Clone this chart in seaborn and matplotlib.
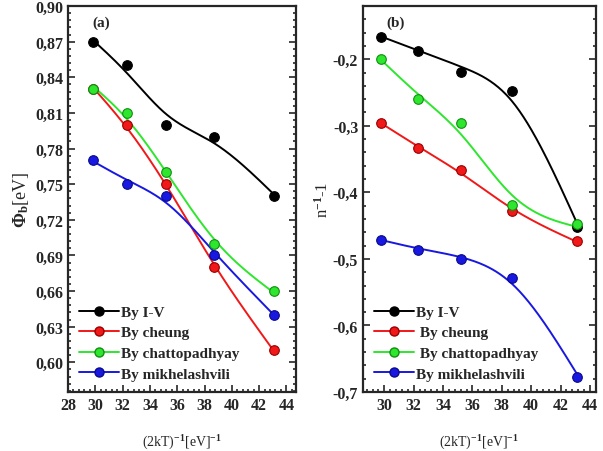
import matplotlib
matplotlib.use('Agg')
import numpy as np
import matplotlib.pyplot as plt
import seaborn as sns
from matplotlib.lines import Line2D
from matplotlib.ticker import MultipleLocator, AutoMinorLocator, FuncFormatter

# Data
x_vals = [29.8, 32.3, 35.2, 38.7, 43.1]
labels_a = ['By I-V', 'By cheung', 'By chattopadhyay', 'By mikhelashvili']
labels_b = ['By I-V', ' By cheung', ' By chattopadhyay', 'By mikhelashvili']
colors = ['black', '#f01818', '#2ee62e', '#1818e0']
edges = ['#000000', '#9a0000', '#0f8f0f', '#0a0a8a']

phi_iv = [0.87, 0.85, 0.80, 0.79, 0.74]
phi_cheung = [0.83, 0.80, 0.75, 0.68, 0.61]
phi_chatto = [0.83, 0.81, 0.76, 0.70, 0.66]
phi_mikhel = [0.77, 0.75, 0.74, 0.69, 0.64]

n_iv = [-0.166, -0.187, -0.219, -0.248, -0.452]
n_cheung = [-0.296, -0.333, -0.367, -0.428, -0.473]
n_chatto = [-0.200, -0.260, -0.296, -0.419, -0.447]
n_mikhel = [-0.471, -0.487, -0.500, -0.528, -0.677]

SMOOTH = 3.0

sns.set_style('ticks')
plt.rcParams['font.family'] = ['Liberation Serif', 'DejaVu Serif']
plt.rcParams['font.weight'] = 'bold'
plt.rcParams['mathtext.fontset'] = 'custom'
plt.rcParams['mathtext.rm'] = 'Liberation Serif:bold'
plt.rcParams['mathtext.it'] = 'Liberation Serif:bold'
plt.rcParams['mathtext.bf'] = 'Liberation Serif:bold'


def smooth_spline(xs, ys, lam, n=200):
    # cubic smoothing spline (Reinsch) drawn through the data
    x = np.asarray(xs, float)
    y = np.asarray(ys, float)
    h = np.diff(x)
    m = len(x)
    Q = np.zeros((m, m - 2))
    R = np.zeros((m - 2, m - 2))
    for j in range(1, m - 1):
        Q[j - 1, j - 1] = 1 / h[j - 1]
        Q[j, j - 1] = -1 / h[j - 1] - 1 / h[j]
        Q[j + 1, j - 1] = 1 / h[j]
        R[j - 1, j - 1] = (h[j - 1] + h[j]) / 3
        if j < m - 2:
            R[j - 1, j] = R[j, j - 1] = h[j] / 6
    g = np.linalg.solve(np.eye(m) + lam * Q @ np.linalg.solve(R, Q.T), y)
    M = np.concatenate([[0], np.linalg.solve(R, Q.T @ g), [0]])
    xx = np.linspace(x[0], x[-1], n)
    i = np.clip(np.searchsorted(x, xx) - 1, 0, m - 2)
    hi = h[i]
    a = (x[i + 1] - xx) / hi
    b = (xx - x[i]) / hi
    yy = a * g[i] + b * g[i + 1] + ((a ** 3 - a) * M[i] + (b ** 3 - b) * M[i + 1]) * hi ** 2 / 6
    return xx, yy


fig = plt.figure(figsize=(6.03, 4.52), dpi=100)
ax1 = fig.add_axes([0.1128, 0.1305, 0.378, 0.854])
ax2 = fig.add_axes([0.602, 0.1305, 0.386, 0.854])


def draw_panel(ax, series, labels):
    for y, c, e in zip(series, colors, edges):
        cx, cy = smooth_spline(x_vals, y, SMOOTH)
        sns.lineplot(x=cx, y=cy, sort=False, estimator=None, ax=ax, color=c, lw=1.4)
        sns.scatterplot(x=x_vals, y=y, ax=ax, color=c, edgecolor=e, s=48,
                        linewidth=0.8, zorder=5)
    handles = [Line2D([], [], color=c, lw=1.4, marker='o', markersize=6.5,
                      markeredgecolor=e) for c, e in zip(colors, edges)]
    ax.legend(handles, labels, loc='lower left', bbox_to_anchor=(0.0, 0.0),
              frameon=False, handlelength=2.6, handletextpad=0.15,
              labelspacing=0.45, borderaxespad=0.35,
              prop={'family': 'Liberation Serif', 'weight': 'bold', 'size': 11})
    for s in ax.spines.values():
        s.set_linewidth(1.6)
    ax.tick_params(which='both', direction='in', top=False, right=True,
                   labelsize=11.5, width=1.2)
    ax.tick_params(which='major', length=5)
    ax.tick_params(which='minor', length=2.5)
    ax.xaxis.set_major_locator(MultipleLocator(2))
    ax.xaxis.set_minor_locator(AutoMinorLocator(5))
    ax.set_xlabel('(2kT)$^{-1}$[eV]$^{-1}$', fontsize=10, labelpad=14)


draw_panel(ax1, [phi_iv, phi_cheung, phi_chatto, phi_mikhel], labels_a)
ax1.set_xlim(28, 44.7)
ax1.set_ylim(0.575, 0.90)
ax1.yaxis.set_major_locator(MultipleLocator(0.03))
ax1.yaxis.set_minor_locator(AutoMinorLocator(5))
ax1.yaxis.set_major_formatter(FuncFormatter(lambda v, p: ('%.2f' % v).replace('.', ',')))
ax1.set_ylabel(r'$\Phi_b$[eV]', fontsize=13, labelpad=3)
ax1.text(0.105, 0.975, '(a)', transform=ax1.transAxes, fontsize=11,
         fontweight='bold', va='top')

draw_panel(ax2, [n_iv, n_cheung, n_chatto, n_mikhel], labels_b)
ax2.set_xlim(28.55, 44.4)
ax2.set_ylim(-0.70, -0.12)
ax2.yaxis.set_major_locator(MultipleLocator(0.1))
ax2.yaxis.set_minor_locator(AutoMinorLocator(5))
ax2.yaxis.set_major_formatter(FuncFormatter(lambda v, p: ('%.1f' % v).replace('.', ',')))
ax2.set_ylabel('n$^{-1}$-1', fontsize=12, labelpad=1)
ax2.text(0.1, 0.975, '(b)', transform=ax2.transAxes, fontsize=11,
         fontweight='bold', va='top')

fig.savefig('out.png', dpi=100)
